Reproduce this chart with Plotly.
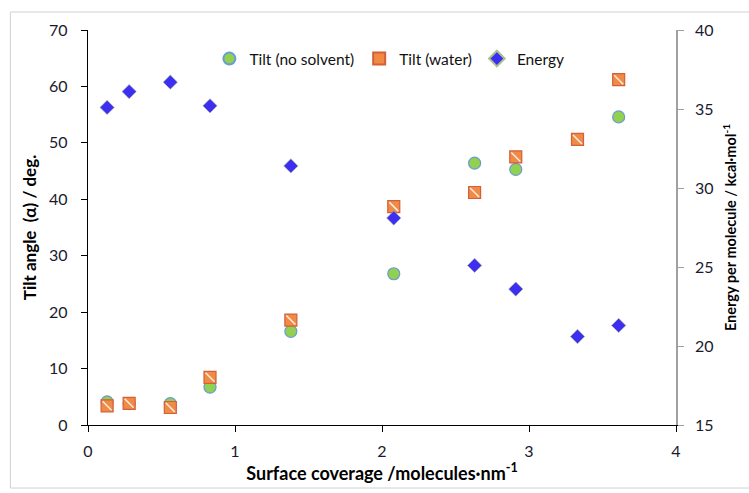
import plotly.graph_objects as go

# ---- data ----
x_nosolv = [0.13, 0.28, 0.56, 0.83, 1.38, 2.08, 2.63, 2.91, 3.61]
tilt_nosolv = [4.1, 3.8, 3.8, 6.7, 16.6, 26.8, 46.4, 45.3, 54.6]

x_water = [0.13, 0.28, 0.56, 0.83, 1.38, 2.08, 2.63, 2.91, 3.33, 3.61]
tilt_water = [3.4, 3.85, 3.1, 8.45, 18.6, 38.7, 41.2, 47.5, 50.6, 61.2]

x_energy = [0.13, 0.28, 0.56, 0.83, 1.38, 2.08, 2.63, 2.91, 3.33, 3.61]
energy = [35.1, 36.1, 36.7, 35.2, 31.4, 28.1, 25.1, 23.6, 20.6, 21.3]

names = ["Tilt (no solvent)", "Tilt (water)", "Energy"]
x_title = "Surface coverage /molecules·nm<sup>-1</sup>"
y_title = "Tilt angle  (α) / deg."
y2_title = "Energy per molecule / kcal·mol<sup>-1</sup>"

W, H = 749, 493
ML, MR, MT, MB = 88, 70, 30, 68
FONT = "Lato"
TICKC = "#1a1a2e"

fig = go.Figure()
fig.add_trace(go.Scatter(
    x=x_nosolv, y=tilt_nosolv, mode="markers", name=names[0],
    marker=dict(symbol="circle", size=12, color="#92D050",
                line=dict(color="#6C9BD2", width=1.2)),
))
fig.add_trace(go.Scatter(
    x=x_water, y=tilt_water, mode="markers", name=names[1],
    marker=dict(symbol="square", size=12, color="#F08A45",
                line=dict(color="#D4603A", width=1.2)),
))
fig.add_trace(go.Scatter(
    x=x_water, y=tilt_water, mode="markers", showlegend=False, hoverinfo="skip",
    marker=dict(symbol="line-nw", size=9, color="white",
                line=dict(color="rgba(255,255,255,0.85)", width=1.5)),
))
fig.add_trace(go.Scatter(
    x=x_energy, y=energy, mode="markers", name=names[2], yaxis="y2",
    marker=dict(symbol="diamond", size=11, color="#3D2EF2",
                line=dict(color="#A9C48A", width=0.6)),
))

pw = W - ML - MR
ph = H - MT - MB
fig.add_shape(type="rect", xref="paper", yref="paper",
              x0=(10 - ML) / pw, x1=(W + 20 - ML) / pw,
              y0=(H - MB - 488) / ph, y1=(H - MB - 12) / ph,
              line=dict(color="#D0D0D0", width=1), fillcolor="rgba(0,0,0,0)", layer="below")

fig.update_layout(
    width=W, height=H,
    margin=dict(l=ML, r=MR, t=MT, b=MB),
    paper_bgcolor="white", plot_bgcolor="white",
    font=dict(family=FONT, size=15, color=TICKC),
    showlegend=True,
    legend=dict(orientation="h", x=(210 - ML) / pw, xanchor="left",
                y=(H - MB - 59) / ph, yanchor="middle",
                bgcolor="rgba(0,0,0,0)", font=dict(size=15.5, color="#111"),
                itemsizing="constant"),
    xaxis=dict(range=[0, 4], dtick=1, tick0=0, showgrid=False, zeroline=False,
               showline=True, linecolor="black", linewidth=1.3,
               ticks="outside", ticklen=6, tickcolor="black", tickwidth=1,
               ticklabelstandoff=6,
               tickfont=dict(size=16, color=TICKC),
               title=dict(text=x_title, standoff=5,
                          font=dict(size=18, color="black", weight="bold"))),
    yaxis=dict(range=[0, 70], dtick=10, tick0=0, showgrid=False, zeroline=False,
               showline=True, linecolor="black", linewidth=1.3,
               ticks="outside", ticklen=6, tickcolor="black", tickwidth=1,
               ticklabelstandoff=10,
               tickfont=dict(size=16, color=TICKC),
               title=dict(text=y_title, standoff=8,
                          font=dict(size=17, color="black", weight="bold"))),
    yaxis2=dict(range=[15, 40], dtick=5, tick0=15, overlaying="y", side="right",
                showgrid=False, zeroline=False,
                showline=True, linecolor="#A0A0A0", linewidth=1.5,
                ticks="outside", ticklen=6, tickcolor="#A0A0A0", tickwidth=1,
                ticklabelstandoff=8,
                tickfont=dict(size=16, color=TICKC),
                title=dict(text=y2_title, standoff=13,
                           font=dict(size=14.5, color="black", weight="bold"))),
)

fig.write_html("out.html")
